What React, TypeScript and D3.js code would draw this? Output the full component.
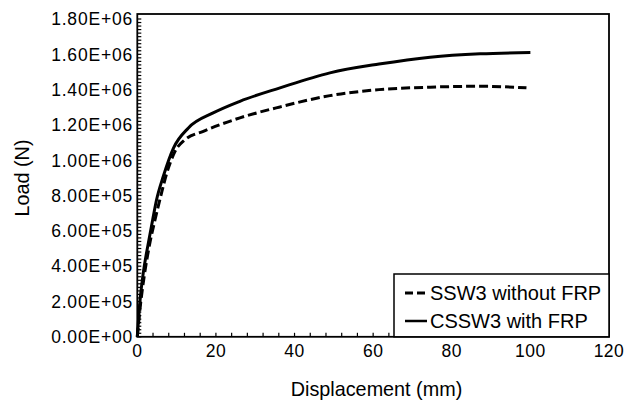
import React from "react";
import * as d3 from "d3";

const xTicks = [0, 20, 40, 60, 80, 100, 120];
const yTicks = [0, 2e5, 4e5, 6e5, 8e5, 1e6, 1.2e6, 1.4e6, 1.6e6, 1.8e6];
const yTickLabels = ["0.00E+00", "2.00E+05", "4.00E+05", "6.00E+05", "8.00E+05", "1.00E+06", "1.20E+06", "1.40E+06", "1.60E+06", "1.80E+06"];

const dispSolid = [0, 0.7, 1.5, 2.8, 3.9, 4.9, 6.6, 9.2, 13.0, 19.3, 26.1, 36.3, 49, 61.5, 74.5, 87.2, 100];
const loadSolid = [0, 207000, 359000, 530000, 662000, 776000, 908000, 1069000, 1183000, 1268000, 1334000, 1410000, 1495000, 1545000, 1584000, 1603000, 1610000];

const dispDash = [0, 0.9, 1.8, 3.1, 4.5, 6.0, 7.5, 9.6, 12.1, 16.8, 26.1, 36.3, 49, 61.5, 74.5, 87.2, 99];
const loadDash = [0, 200000, 350000, 520000, 662000, 800000, 927000, 1050000, 1116000, 1164000, 1240000, 1302000, 1366000, 1400000, 1414000, 1419000, 1410000];

const seriesNames = ["SSW3 without FRP", "CSSW3 with FRP"];

export default function App() {
  const W = 627, H = 403;
  const x = d3.scaleLinear().domain([0, 120]).range([137.3, 609]);
  const y = d3.scaleLinear().domain([0, 1.8e6]).range([336.8, 19]);
  const frameTop = 14;
  const line = d3.line<[number, number]>().x(d => x(d[0])).y(d => y(d[1])).curve(d3.curveMonotoneX);
  const solidPts = dispSolid.map((d, i) => [d, loadSolid[i]] as [number, number]);
  const dashPts = dispDash.map((d, i) => [d, loadDash[i]] as [number, number]);
  const yMinor = d3.range(0, 1.8e6 + 1, 2e4);
  const xMinor = d3.range(0, 121, 4);
  const font = "'Liberation Sans', Arial, sans-serif";
  const x0 = x(0), x1 = x(120), y0 = y(0);
  return (
    <svg width={W} height={H} style={{ position: "absolute", left: 0, top: 0, background: "#fff" }} fontFamily={font}>
      <rect x={0} y={0} width={W} height={H} fill="#fff" />
      {yMinor.map((v, i) => (
        <line key={"ym" + i} x1={x0} x2={x0 + 4} y1={y(v)} y2={y(v)} stroke="#000" strokeWidth={1.2} />
      ))}
      {xMinor.map((v, i) => (
        <line key={"xm" + i} x1={x(v)} x2={x(v)} y1={y0} y2={y0 - 4} stroke="#000" strokeWidth={1.2} />
      ))}
      <path d={line(dashPts) || ""} fill="none" stroke="#000" strokeWidth={3} strokeDasharray="9,4" />
      <path d={line(solidPts) || ""} fill="none" stroke="#000" strokeWidth={3} />
      <rect x={x0} y={frameTop} width={x1 - x0} height={y0 - frameTop} fill="none" stroke="#000" strokeWidth={1.8} />
      {yTicks.map((v, i) => (
        <text key={"yl" + i} x={133} y={y(v)} dy="0.36em" textAnchor="end" fontSize={17.5} letterSpacing={0.8}>{yTickLabels[i]}</text>
      ))}
      {xTicks.map((v, i) => (
        <text key={"xl" + i} x={x(v)} y={357} textAnchor="middle" fontSize={17.5} letterSpacing={0.5}>{v}</text>
      ))}
      <text x={376.5} y={396} textAnchor="middle" fontSize={19.8}>Displacement (mm)</text>
      <text transform="translate(29,178) rotate(-90)" textAnchor="middle" fontSize={19.8}>Load (N)</text>
      <rect x={394} y={274} width={x1 - 394} height={y0 - 274} fill="#fff" stroke="#000" strokeWidth={1.5} />
      <line x1={405} x2={425} y1={293} y2={293} stroke="#000" strokeWidth={3} strokeDasharray="8,4" />
      <line x1={405} x2={427} y1={321} y2={321} stroke="#000" strokeWidth={2.5} />
      <text x={430} y={300} fontSize={20}>{seriesNames[0]}</text>
      <text x={430} y={328} fontSize={20}>{seriesNames[1]}</text>
    </svg>
  );
}
